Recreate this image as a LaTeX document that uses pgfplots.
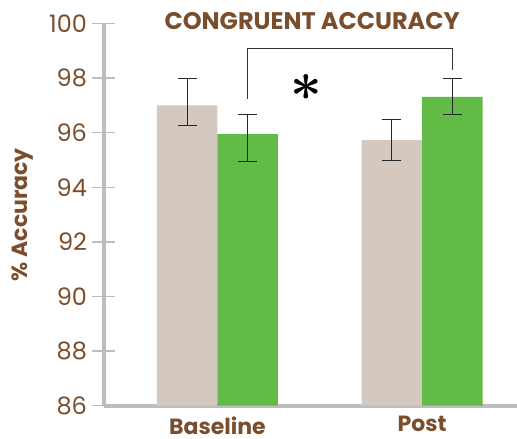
\documentclass[border=0pt]{standalone}
\usepackage{pgfplots}
\usepackage{pgfplotstable}
\pgfplotsset{compat=1.18}
\usepackage{fontspec}
\setmainfont{Poppins}
\definecolor{brn}{HTML}{7A4E2D}
\definecolor{beige}{HTML}{D5C8BE}
\definecolor{grn}{HTML}{62BA47}
\definecolor{axgray}{HTML}{BDBCBF}
\pgfplotstableread{
x y ep em
0 97.00 1.00 0.74
1 95.73 0.75 0.74
}\beigedata
\pgfplotstableread{
x y ep em
0 95.95 0.70 1.02
1 97.31 0.67 0.66
}\greendata
\newsavebox\astbox
\begin{document}
\sbox\astbox{\boldmath$\ast$}%
\begin{tikzpicture}
\useasboundingbox (-104pt,-33.3pt) rectangle (413pt,405.7pt);
\begin{axis}[
  scale only axis, width=413pt, height=382.2pt,
  xmin=-0.554, xmax=1.463, ymin=86, ymax=100,
  ytick={86,88,...,100},
  xtick={0,1}, xticklabels={Baseline,Post},
  axis x line=bottom, axis y line=left,
  axis line style={-, axgray, line width=4pt},
  ytick style={axgray, line width=1.5pt},
  xtick style={draw=none},
  major tick length=23pt, tick align=center,
  /pgf/number format/assume math mode=true,
  yticklabel style={font=\fontsize{24}{24}\selectfont, text=brn, anchor=east, xshift=-2pt},
  xticklabel style={font=\bfseries\fontsize{22}{22}\selectfont, text=brn, anchor=north, inner sep=0pt, yshift=12.5pt},
  ylabel={\% Accuracy},
  every axis y label/.style={at={(axis description cs:-0.196,0.5)}, rotate=90, anchor=center, font=\bfseries\fontsize{22}{22}\selectfont, text=brn},
  title={CONGRUENT ACCURACY},
  every axis title/.style={at={(axis description cs:0.504,1)}, yshift=2pt, anchor=center, font=\bfseries\fontsize{24}{24}\selectfont, text=brn},
  ybar, bar width=0.2955,
]
\addplot[fill=beige, draw=none, bar shift=-0.14775,
  error bars/.cd, y dir=both, y explicit,
  error mark options={rotate=90, mark size=9.5pt, line width=1pt, black!85},
  error bar style={line width=1pt, black!85}]
  table[x=x, y=y, y error plus=ep, y error minus=em] {\beigedata};
\addplot[fill=grn, draw=none, bar shift=0.14775,
  error bars/.cd, y dir=both, y explicit,
  error mark options={rotate=90, mark size=9.5pt, line width=1pt, black!85},
  error bar style={line width=1pt, black!85}]
  table[x=x, y=y, y error plus=ep, y error minus=em] {\greendata};
\draw[line width=1.2pt, black!80] (axis cs:0.14775,97.25) -- (axis cs:0.14775,99.08) -- (axis cs:1.14775,99.08) -- (axis cs:1.14775,98.31);
\node[scale=5.5, inner sep=0pt] at (axis cs:0.436,97.64) {\usebox\astbox};
\end{axis}
\end{tikzpicture}
\end{document}
